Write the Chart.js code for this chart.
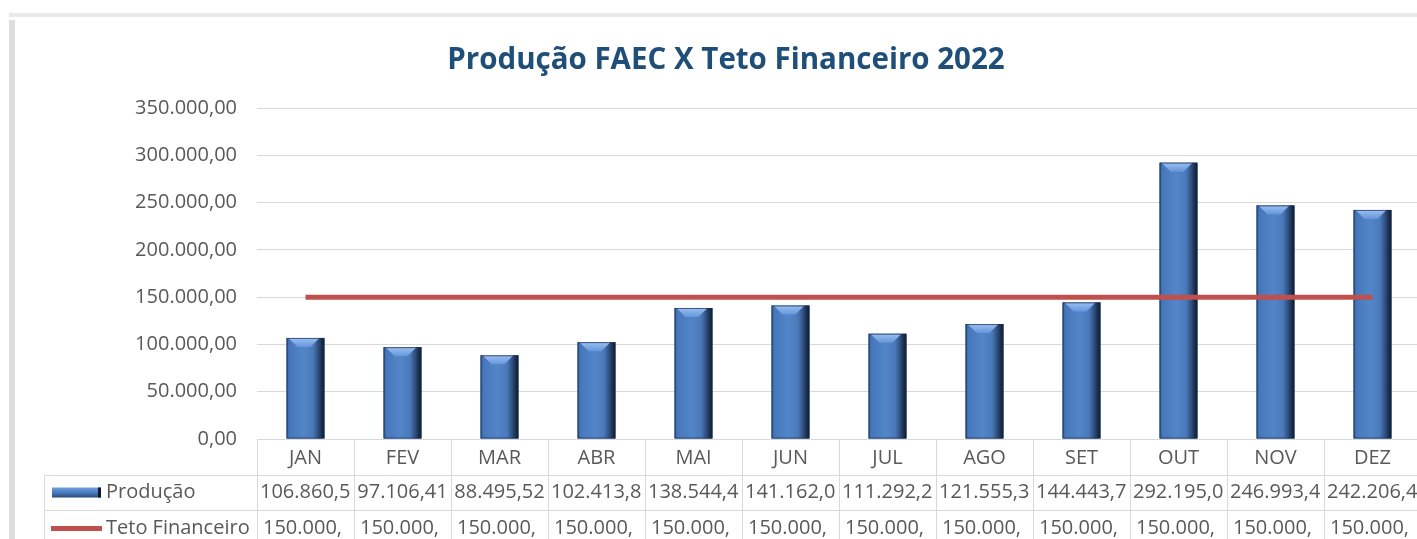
<!DOCTYPE html>
<html>
<head>
<meta charset="utf-8">
<script src="https://cdn.jsdelivr.net/npm/chart.js@4.4.0/dist/chart.umd.min.js"></script>
<style>
  html, body { margin: 0; padding: 0; background: #fff; overflow: hidden; width: 1417px; height: 539px; }
  #topline { position: absolute; left: 9px; top: 13px; width: 1420px; height: 4px; background: #e9e9e9; }
  #leftbar { position: absolute; left: 9px; top: 20px; width: 6px; height: 540px; background: #dedede; }
  #wrap { position: absolute; left: 0; top: 0; width: 1421px; height: 560px; }
</style>
</head>
<body>
<div id="topline"></div>
<div id="leftbar"></div>
<div id="wrap"><canvas id="chart" width="1421" height="560"></canvas></div>
<script>
// dados
var meses = ["JAN", "FEV", "MAR", "ABR", "MAI", "JUN", "JUL", "AGO", "SET", "OUT", "NOV", "DEZ"];
var producao = [106860.5, 97106.41, 88495.52, 102413.8, 138544.4, 141162.0, 111292.2, 121555.3, 144443.7, 292195.0, 246993.4, 242206.4];
var teto = [150000, 150000, 150000, 150000, 150000, 150000, 150000, 150000, 150000, 150000, 150000, 150000];
var serieNomes = ["Produção", "Teto Financeiro"];
var titulo = "Produção FAEC X Teto Financeiro 2022";
var yMax = 350000, yStep = 50000;

var FONT = "'Open Sans', sans-serif";
var GRAY = "#595959", LINE = "#d9d9d9";

function fmt(v) {
    var p = Number(v).toFixed(2).split(".");
    return p[0].replace(/\B(?=(\d{3})+(?!\d))/g, ".") + "," + p[1];
}

// barras com aspecto chanfrado (desenhado sobre os elementos do Chart.js)
var barLook = {
    id: "barLook",
    afterDatasetDraw: function (chart, args) {
        if (args.index !== 0) return;
        var ctx = chart.ctx;
        args.meta.data.forEach(function (el) {
            var p = el.getProps(["x", "y", "base", "width"], true);
            var l = p.x - p.width / 2, r = p.x + p.width / 2, t = p.y, b = p.base;
            var g = ctx.createLinearGradient(l, 0, r, 0);
            g.addColorStop(0, "#2f5791");
            g.addColorStop(0.07, "#4677bb");
            g.addColorStop(0.45, "#5385c9");
            g.addColorStop(0.7, "#4a79b9");
            g.addColorStop(0.85, "#2b4a78");
            g.addColorStop(1, "#0c1727");
            ctx.save();
            ctx.fillStyle = g;
            ctx.fillRect(l, t, r - l, b - t);
            var d = Math.min(9, (b - t) / 2);
            var g2 = ctx.createLinearGradient(0, t, 0, t + d);
            g2.addColorStop(0, "#9cc0f2");
            g2.addColorStop(1, "#6496da");
            ctx.fillStyle = g2;
            ctx.beginPath();
            ctx.moveTo(l + 2, t);
            ctx.lineTo(r - 5, t);
            ctx.lineTo(r - 5 - d, t + d);
            ctx.lineTo(l + 2 + d, t + d);
            ctx.closePath();
            ctx.fill();
            ctx.strokeStyle = "rgba(25,45,80,0.7)";
            ctx.lineWidth = 1;
            ctx.strokeRect(l + 0.5, t + 0.5, r - l - 1, b - t - 1);
            ctx.restore();
        });
    }
};

// tabela de dados abaixo do eixo x
var dataTable = {
    id: "dataTable",
    afterDraw: function (chart) {
        var ctx = chart.ctx, xs = chart.scales.x, area = chart.chartArea;
        var cw = xs.getPixelForValue(1) - xs.getPixelForValue(0);
        var rows = [area.bottom, 475, 510, 546];
        var leftX = 44;
        ctx.save();
        ctx.strokeStyle = LINE;
        ctx.lineWidth = 1;
        // linhas verticais
        for (var i = 0; i <= meses.length; i++) {
            var vx = Math.round(xs.getPixelForValue(0) - cw / 2 + i * cw) + 0.5;
            ctx.beginPath(); ctx.moveTo(vx, rows[0]); ctx.lineTo(vx, 560); ctx.stroke();
        }
        ctx.beginPath(); ctx.moveTo(leftX + 0.5, rows[1]); ctx.lineTo(leftX + 0.5, 560); ctx.stroke();
        for (var k = 1; k < rows.length; k++) {
            ctx.beginPath(); ctx.moveTo(leftX, rows[k] + 0.5); ctx.lineTo(area.right, rows[k] + 0.5); ctx.stroke();
        }
        ctx.font = "20px " + FONT;
        ctx.fillStyle = GRAY;
        ctx.textBaseline = "middle";
        // cabeçalho
        ctx.textAlign = "center";
        meses.forEach(function (m, i) {
            ctx.fillText(m, xs.getPixelForValue(i), (rows[0] + rows[1]) / 2 + 1);
        });
        // linhas de valores (texto cortado como na tabela do Excel)
        var insets = [3, 6];
        [producao, teto].forEach(function (serie, ri) {
            var cy = (rows[ri + 1] + rows[ri + 2]) / 2;
            serie.forEach(function (v, i) {
                var s = fmt(v), cx = xs.getPixelForValue(i), cl = cx - cw / 2;
                var maxW = cw - insets[ri] - 2;
                if (ctx.measureText(s).width <= maxW) {
                    ctx.textAlign = "center";
                    ctx.fillText(s, cx, cy);
                } else {
                    while (s.length && ctx.measureText(s).width > maxW) s = s.slice(0, -1);
                    ctx.textAlign = "left";
                    ctx.fillText(s, cl + insets[ri], cy);
                }
            });
        });
        // legendas da tabela
        var y1 = (rows[1] + rows[2]) / 2, y2 = (rows[2] + rows[3]) / 2;
        var kg = ctx.createLinearGradient(0, y1 - 5, 0, y1 + 5);
        kg.addColorStop(0, "#6f9ee0");
        kg.addColorStop(0.5, "#4a7cc0");
        kg.addColorStop(1, "#2b4a78");
        ctx.fillStyle = kg;
        ctx.fillRect(52, y1 - 5, 49, 10);
        ctx.fillStyle = "#0e1a2c";
        ctx.fillRect(98, y1 - 5, 3, 10);
        ctx.fillStyle = "#C0504D";
        ctx.fillRect(51, y2 - 2, 51, 5);
        ctx.fillStyle = GRAY;
        ctx.textAlign = "left";
        ctx.fillText(serieNomes[0], 106, y1);
        ctx.fillText(serieNomes[1], 106, y2);
        ctx.restore();
    }
};

var chart = new Chart(document.getElementById("chart").getContext("2d"), {
    type: "bar",
    data: {
        labels: meses,
        datasets: [{
            type: "bar",
            label: serieNomes[0],
            data: producao,
            backgroundColor: "#4f81bd",
            borderWidth: 0,
            categoryPercentage: 1,
            barPercentage: 0.39,
            order: 1
        }, {
            type: "line",
            label: serieNomes[1],
            data: teto,
            borderColor: "#C0504D",
            borderWidth: 5,
            borderCapStyle: "butt",
            pointRadius: 0,
            fill: false,
            tension: 0,
            order: 0
        }]
    },
    plugins: [barLook, dataTable],
    options: {
        responsive: false,
        animation: false,
        devicePixelRatio: 1,
        layout: { padding: { left: 31, right: 0, top: 0, bottom: 0 } },
        plugins: {
            legend: { display: false },
            tooltip: { enabled: false },
            title: {
                display: true,
                text: titulo,
                color: "#1F4E79",
                font: { family: FONT, size: 29.5, weight: "bold", lineHeight: 1.2 },
                padding: { top: 43, bottom: 29.6 }
            }
        },
        scales: {
            x: {
                ticks: { display: false },
                grid: { display: false },
                border: { display: true, color: LINE, width: 1 },
                afterFit: function (s) { s.height = 121; }
            },
            y: {
                min: 0,
                max: yMax,
                ticks: {
                    stepSize: yStep,
                    color: GRAY,
                    font: { family: FONT, size: 20 },
                    padding: 20,
                    callback: function (v) { return fmt(v); }
                },
                grid: { color: LINE, drawTicks: false },
                border: { display: false },
                afterFit: function (s) { s.width = 226; }
            }
        }
    }
});
</script>
</body>
</html>
